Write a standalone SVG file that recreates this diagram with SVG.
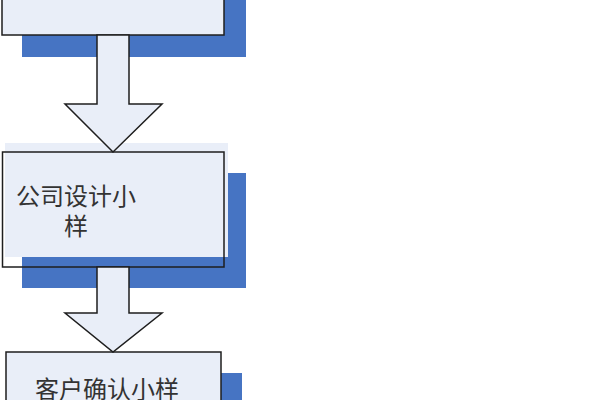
<svg xmlns="http://www.w3.org/2000/svg" width="600" height="400" viewBox="0 0 600 400">
<style>
.shadow{fill:#4674C3}
.fill{fill:#E9EEF8}
.outline{fill:none;stroke:#1E1E1E;stroke-width:1.5}
.arrow{fill:#E9EEF8;stroke:#1E1E1E;stroke-width:1.5;stroke-linejoin:miter}
.label{font-family:"Noto Sans CJK SC","Noto Sans",sans-serif;font-size:24px;fill:#333333}
</style>
<rect width="600" height="400" fill="#ffffff"/>
<g id="node1">
<rect class="shadow" x="22" y="-20" width="224" height="77"/>
<rect class="fill" x="2" y="-20" width="222" height="55"/>
<rect class="outline" x="2" y="-20" width="222" height="55"/>
</g>
<g id="node2">
<rect class="shadow" x="22" y="173" width="224" height="115"/>
<rect class="fill" x="5" y="143" width="223" height="114"/>
<rect class="outline" x="2.5" y="152" width="221.5" height="115"/>
<text class="label" x="16" y="205">公司设计小</text>
<text class="label" x="64" y="235">样</text>
</g>
<g id="node3">
<rect class="shadow" x="22" y="373" width="220" height="40"/>
<rect class="fill" x="6" y="352" width="215" height="60"/>
<rect class="outline" x="6" y="352" width="215" height="60"/>
<text class="label" x="35" y="398">客户确认小样</text>
</g>
<g id="connectors">
<path class="arrow" d="M97,35 L129,35 L129,104 L162,104 L113,152 L65,104 L97,104 Z"/>
<path class="arrow" d="M97,267 L129,267 L129,313 L162,313 L113,352 L65,313 L97,313 Z"/>
</g>
</svg>
